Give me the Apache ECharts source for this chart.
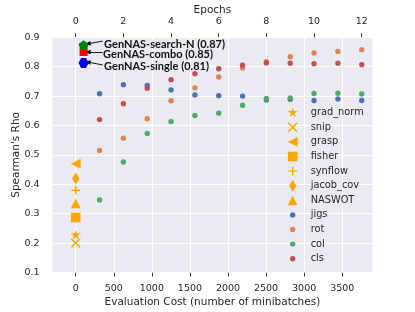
<!DOCTYPE html>
<html><head><meta charset="utf-8">
<script src="https://cdn.jsdelivr.net/npm/echarts@6/dist/echarts.min.js"></script>
<style>html,body{margin:0;padding:0;background:#fff}#c{width:415px;height:312px}</style>
</head><body><div id="c"></div>
<script>
// ---- data ----
const epochs = [1,2,3,4,5,6,7,8,9,10,11,12];
const jigs = [0.708,0.739,0.736,0.721,0.704,0.701,0.700,0.687,0.689,0.685,0.690,0.685];
const rot  = [0.515,0.557,0.623,0.684,0.728,0.765,0.796,0.817,0.834,0.847,0.852,0.858];
const col  = [0.347,0.476,0.573,0.614,0.634,0.642,0.669,0.692,0.694,0.709,0.710,0.707];
const cls  = [0.620,0.674,0.727,0.756,0.776,0.793,0.805,0.813,0.812,0.810,0.812,0.807];
const proxyNames  = ['grad_norm','snip','grasp','fisher','synflow','jacob_cov','NASWOT'];
const proxyValues = [0.227,0.200,0.470,0.287,0.380,0.420,0.335];
const proxyEpoch = 0;
const genNames  = ['GenNAS-search-N (0.87)','GenNAS-combo (0.85)','GenNAS-single (0.81)'];
const genValues = [0.873,0.850,0.813];
const genEpoch = 0.33;
const arrowTails = [[1.13,0.887],[1.13,0.850],[1.13,0.806]];
const arrowHeads = [[0.5,0.878],[0.5,0.850],[0.5,0.816]];
const costTicks  = [0,500,1000,1500,2000,2500,3000,3500];
const epochTicks = [0,2,4,6,8,10,12];
const costRange = [-305, 3895];
const minibatchesPerEpoch = 313;

// ---- symbols (framed in a 24x24 box so sizes are consistent) ----
const FR = 'M0 0M24 24';
function poly(pts){ return 'path://' + FR + 'M' + pts.map(p=>(12+p[0]).toFixed(2)+' '+(12+p[1]).toFixed(2)).join('L') + 'Z'; }
function starPts(R){ const r=R*0.381966, pts=[]; for(let i=0;i<10;i++){const a=-Math.PI/2+i*Math.PI/5, rr=i%2?r:R; pts.push([rr*Math.cos(a), rr*Math.sin(a)]);} return pts; }
function crossPts(L,t,ang){ const base=[[t,-L],[t,-t],[L,-t],[L,t],[t,t],[t,L],[-t,L],[-t,t],[-L,t],[-L,-t],[-t,-t],[-t,-L]]; const c=Math.cos(ang), s=Math.sin(ang); return base.map(p=>[p[0]*c-p[1]*s, p[0]*s+p[1]*c]); }
function circ(r){ return 'path://'+FR+'M'+(12-r)+' 12A'+r+' '+r+' 0 1 0 '+(12+r)+' 12A'+r+' '+r+' 0 1 0 '+(12-r)+' 12Z'; }
function regPoly(n, R, rot0){ const pts=[]; for(let i=0;i<n;i++){const a=rot0+i*2*Math.PI/n; pts.push([R*Math.cos(a),R*Math.sin(a)]);} return 'path://M'+pts.map(p=>p[0].toFixed(3)+' '+p[1].toFixed(3)).join('L')+'Z'; }
const symbols = {
  grad_norm: poly(starPts(9.0)),
  snip: poly(crossPts(10.8,1.2,Math.PI/4)),
  grasp: poly([[-8.4,0],[8.4,-8.4],[8.4,8.4]]),
  fisher: poly([[-8.2,-8.2],[8.2,-8.2],[8.2,8.2],[-8.2,8.2]]),
  synflow: poly(crossPts(7.4,1.2,0)),
  jacob_cov: poly([[0,-10.4],[6.2,0],[0,10.4],[-6.2,0]]),
  NASWOT: poly([[0,-8.4],[8.4,8.4],[-8.4,8.4]]),
  dot: circ(4.6)
};
const ORANGE = '#FFA500';
const dotSeries = [['jigs',jigs,'#4C72B0'],['rot',rot,'#DD8452'],['col',col,'#55A868'],['cls',cls,'#C44E52']];
const genStyle = [
  {color:'#008000', symbol: regPoly(5,1,-Math.PI/2), size:10},
  {color:'#FF0000', symbol: 'rect', size:8},
  {color:'#0000FF', symbol: regPoly(6,1,0), size:10}
];
const legendNames = proxyNames.concat(dotSeries.map(d=>d[0]));
const legendIcon = n => symbols[n] || symbols.dot;

const TXT = '#262626';
const series = [];
// vertical grid lines at cost ticks
series.push({type:'scatter', xAxisIndex:0, yAxisIndex:0, data:[], z:1, silent:true,
  markLine:{silent:true, z:1, symbol:['none','none'], label:{show:false}, animation:false,
    lineStyle:{color:'#ffffff', width:1, type:'solid'}, emphasis:{disabled:true},
    data: costTicks.map(v=>({xAxis:v}))}});
proxyNames.forEach((n,i)=>{
  series.push({name:n, type:'scatter', xAxisIndex:1, z:3, symbol:symbols[n], symbolSize:14,
    itemStyle:{color:ORANGE, opacity:1}, data:[[proxyEpoch, proxyValues[i]]]});
});
dotSeries.forEach(d=>{
  series.push({name:d[0], type:'scatter', xAxisIndex:1, z:3, symbol:symbols.dot, symbolSize:14,
    itemStyle:{color:d[2], opacity:1}, data: epochs.map((e,i)=>[e, d[1][i]])});
});
const labelDy = [-1, 2, 4];
[2,1,0].forEach(i=>{
  const g = genStyle[i];
  series.push({name:genNames[i], type:'scatter', xAxisIndex:1, z:4, symbol:g.symbol, symbolSize:g.size,
    itemStyle:{color:g.color, opacity:1},
    label:{show:true, position:'right', distance:15.5, offset:[0,labelDy[i]], formatter:genNames[i],
      fontFamily:'Lato', fontWeight:'bold', fontSize:11, color:'#111'},
    data:[[genEpoch, genValues[i]]],
    markLine:{silent:true, z:4, animation:false, symbol:['none','triangle'], symbolSize:[4.5,6], label:{show:false},
      lineStyle:{color:'#000', width:0.9, type:'solid'}, emphasis:{disabled:true},
      data:[[{coord:arrowTails[i]},{coord:arrowHeads[i]}]]}
  });
});

const chart = echarts.init(document.getElementById('c'), null, {renderer:'canvas'});
chart.setOption({
  animation:false,
  backgroundColor:'#ffffff',
  textStyle:{fontFamily:'DejaVu Sans'},
  grid:{left:52.5, right:42.7, top:37.3, bottom:39.5, containLabel:false, outerBoundsMode:'none',
    show:true, backgroundColor:'#EAEAF2', borderWidth:0},
  xAxis:[
    {type:'value', position:'bottom', min:costRange[0], max:costRange[1],
     name:'Evaluation Cost (number of minibatches)', nameLocation:'middle', nameGap:24, nameMoveOverlap:false,
     nameTextStyle:{fontSize:10.5, color:TXT, fontFamily:'DejaVu Sans'},
     axisLine:{show:false}, splitLine:{show:false},
     axisTick:{show:true, customValues:costTicks, length:4, lineStyle:{color:'#333', width:1}},
     axisLabel:{customValues:costTicks, fontSize:9.5, color:TXT, margin:11, fontFamily:'DejaVu Sans', formatter:v=>String(v)}},
    {type:'value', position:'top', min:costRange[0]/minibatchesPerEpoch, max:costRange[1]/minibatchesPerEpoch,
     name:'Epochs', nameLocation:'middle', nameGap:22, nameMoveOverlap:false,
     nameTextStyle:{fontSize:10.5, color:TXT, fontFamily:'DejaVu Sans'},
     axisLine:{show:false}, splitLine:{show:false},
     axisTick:{show:true, customValues:epochTicks, length:4, lineStyle:{color:'#333', width:1}},
     axisLabel:{customValues:epochTicks, fontSize:9.5, color:TXT, margin:10.5, fontFamily:'DejaVu Sans', formatter:v=>String(v)}}
  ],
  yAxis:{type:'value', min:0.1, max:0.9, interval:0.1,
    name:"Spearman's Rho", nameLocation:'middle', nameGap:31, nameMoveOverlap:false,
    nameTextStyle:{fontSize:10.5, color:TXT, fontFamily:'DejaVu Sans'},
    axisLine:{show:false}, axisTick:{show:false},
    splitLine:{show:true, lineStyle:{color:'#ffffff', width:1}},
    axisLabel:{fontSize:9.5, color:TXT, margin:13, formatter:v=>v.toFixed(1), fontFamily:'DejaVu Sans'}},
  legend:{orient:'vertical', left:285.7, top:105.7, padding:0, itemWidth:14, itemHeight:14, itemGap:0.6,
    selectedMode:false,
    textStyle:{fontFamily:'DejaVu Sans', fontSize:9.8, color:TXT, padding:[0,0,0,6]},
    data: legendNames.map(n=>({name:n, icon:legendIcon(n)}))},
  series: series
});
</script></body></html>
